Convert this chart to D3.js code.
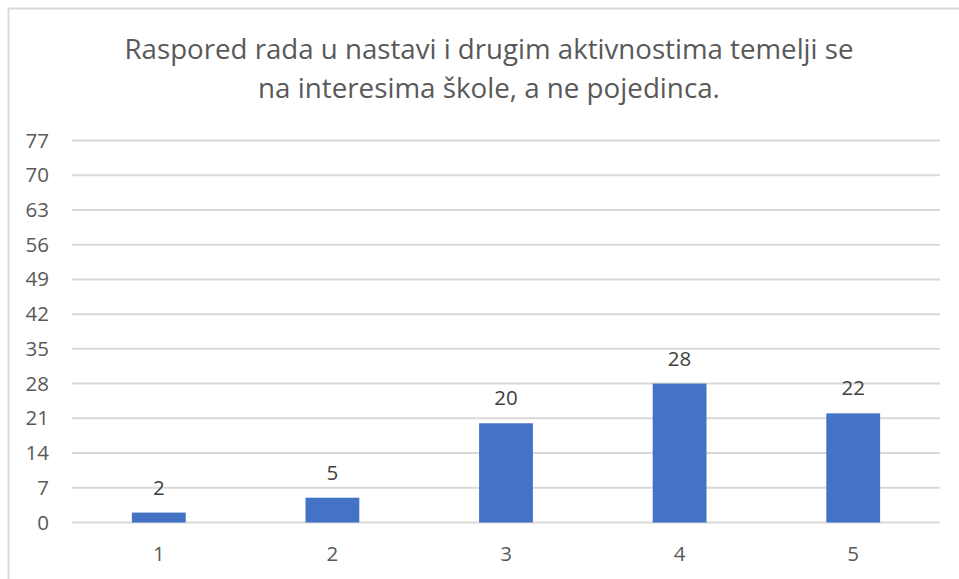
<!DOCTYPE html>
<html>
<head>
<meta charset="utf-8">
<script src="https://cdn.jsdelivr.net/npm/d3@7"></script>
<style>
  body { margin: 0; background: #fff; }
  svg { display: block; }
</style>
</head>
<body>
<svg id="chart" width="959" height="579"></svg>
<script>
// data
const categories = ["1", "2", "3", "4", "5"];
const values = [2, 5, 20, 28, 22];
const yTicks = [0, 7, 14, 21, 28, 35, 42, 49, 56, 63, 70, 77];
const titleLines = [
  "Raspored rada u nastavi i drugim aktivnostima temelji se",
  "na interesima škole, a ne pojedinca."
];

const svg = d3.select("#chart");
const width = +svg.attr("width");
const height = +svg.attr("height");
const font = "'Open Sans', 'Noto Sans', sans-serif";
const textColor = "#595959";

// outer chart border (runs off right/bottom like the screenshot)
svg.append("rect")
  .attr("x", 8.5).attr("y", 8.5)
  .attr("width", width + 20).attr("height", height + 20)
  .attr("fill", "#fff")
  .attr("stroke", "#d9d9d9")
  .attr("stroke-width", 2);

const margin = { top: 140.5, right: 19, bottom: 56.5, left: 72 };

const x = d3.scaleBand()
  .domain(categories)
  .range([margin.left, width - margin.right])
  .paddingInner(0.69)
  .paddingOuter(0.345);

const y = d3.scaleLinear()
  .domain([0, 77])
  .range([height - margin.bottom, margin.top]);

// title
const titleCenter = 489;
const titleTargets = [729, 462];
const title = svg.append("g");
titleLines.forEach((line, i) => {
  const t = title.append("text")
    .attr("x", titleCenter)
    .attr("y", 59 + i * 39)
    .attr("text-anchor", "middle")
    .attr("fill", textColor)
    .style("font-family", font)
    .style("font-size", "24px")
    .text(line);
  // fit width to the reference
  const w = t.node().getComputedTextLength();
  t.style("font-size", (24 * titleTargets[i] / w).toFixed(2) + "px");
});

// gridlines
svg.append("g")
  .selectAll("line")
  .data(yTicks)
  .join("line")
  .attr("x1", margin.left)
  .attr("x2", width - margin.right)
  .attr("y1", (d) => y(d))
  .attr("y2", (d) => y(d))
  .attr("stroke", "#d9d9d9")
  .attr("stroke-width", 2);

// y axis labels
const yAxis = svg.append("g")
  .attr("transform", `translate(${margin.left},0)`)
  .call(d3.axisLeft(y).tickValues(yTicks).tickSize(0).tickPadding(23));
yAxis.select(".domain").remove();
yAxis.selectAll("text")
  .attr("fill", textColor)
  .style("font-family", font)
  .style("font-size", "20.5px");

// x axis labels
const xAxis = svg.append("g")
  .attr("transform", `translate(0,${y(0)})`)
  .call(d3.axisBottom(x).tickSize(0).tickPadding(24));
xAxis.select(".domain").remove();
xAxis.selectAll("text")
  .attr("fill", textColor)
  .style("font-family", font)
  .style("font-size", "20.5px");

// bars
svg.append("g")
  .selectAll("rect")
  .data(values)
  .join("rect")
  .attr("x", (d, i) => x(categories[i]))
  .attr("y", (d) => y(d))
  .attr("width", x.bandwidth())
  .attr("height", (d) => y(0) - y(d))
  .attr("fill", "#4472c4");

// value labels
svg.append("g")
  .selectAll("text")
  .data(values)
  .join("text")
  .attr("x", (d, i) => x(categories[i]) + x.bandwidth() / 2)
  .attr("y", (d) => y(d) - 18)
  .attr("text-anchor", "middle")
  .attr("fill", "#404040")
  .style("font-family", font)
  .style("font-size", "20.5px")
  .text((d) => d);
</script>
</body>
</html>
